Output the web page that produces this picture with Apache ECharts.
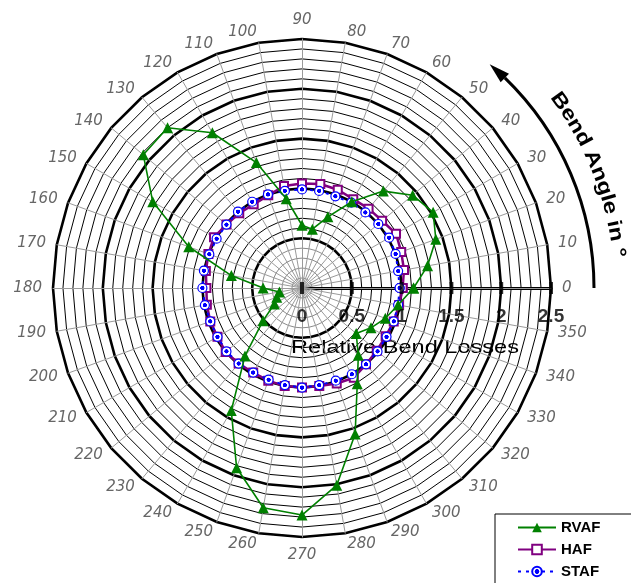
<!DOCTYPE html>
<html><head><meta charset="utf-8">
<script src="https://cdn.jsdelivr.net/npm/echarts@6/dist/echarts.min.js"></script>
<style>html,body{margin:0;padding:0;background:#fff}#c{width:631px;height:583px}</style>
</head><body><div id="c"></div>
<script>
// ---- data ----
const angles = [0,10,20,30,40,50,60,70,80,90,100,110,120,130,140,150,160,170,180,190,200,210,220,230,240,250,260,270,280,290,300,310,320,330,340,350];
const angleLabels = ['0','10','20','30','40','50','60','70','80','90','100','110','120','130','140','150','160','170','180','190','200','210','220','230','240','250','260','270','280','290','300','310','320','330','340','350'];
const rvaf = [1.12,1.28,1.43,1.52,1.45,1.27,1.00,0.76,0.60,0.63,0.91,1.34,1.80,2.10,2.08,1.73,1.21,0.72,0.39,0.23,0.27,0.32,0.51,0.89,1.42,1.92,2.24,2.28,2.01,1.56,1.11,0.88,0.71,0.80,0.89,0.98];
const haf  = [1.01,1.04,1.06,1.09,1.05,1.04,1.03,1.05,1.06,1.05,1.04,0.99,0.97,0.98,0.99,1.02,1.00,0.98,0.96,0.97,0.98,0.98,1.00,0.99,0.98,0.99,1.00,1.00,1.00,1.02,1.04,1.00,0.98,0.97,0.98,0.99];
const staf = [0.98,0.98,1.00,1.01,1.00,0.99,0.99,0.98,0.99,0.99,0.99,1.00,1.00,1.00,0.99,0.99,0.99,1.00,1.00,0.99,0.98,0.98,0.99,0.99,0.98,0.98,0.99,1.00,0.99,0.99,1.00,1.00,0.99,0.98,0.98,0.98];
const seriesNames = ['RVAF','HAF','STAF'];
const radiusTicks = [0,0.5,1,1.5,2,2.5];
const radiusTickLabels = ['0','0.5','1','1.5','2','2.5'];
const radiusMax = 2.5;
const radiusTitle = 'Relative Bend Losses';
const angleTitle = 'Bend Angle in \u00b0';

// ---- layout ----
const CX = 302, CY = 288, R = 249;
const chart = echarts.init(document.getElementById('c'), null, {renderer:'canvas'});

function closed(vals){
  const d = angles.map((a,i)=>[vals[i], a]);
  d.push([vals[0], 360]);
  return d;
}
const ringColors = [];
for (let i = 0; i <= 25; i++) ringColors.push(i < 5 ? '#8a8a8a' : '#000');

const graphic = [];
// curved arrow
const AR = 292;
const thB = 46*Math.PI/180, thT = 50*Math.PI/180;
graphic.push({type:'arc', silent:true, shape:{cx:CX, cy:CY, r:AR, startAngle:-thB, endAngle:0, clockwise:true},
  style:{stroke:'#000', lineWidth:3, fill:null}});
const tip = [CX + AR*Math.cos(thT), CY - AR*Math.sin(thT)];
const bc = [CX + AR*Math.cos(thB), CY - AR*Math.sin(thB)];
const u = [Math.cos(thB), -Math.sin(thB)];
graphic.push({type:'polygon', silent:true, shape:{points:[tip,[bc[0]+6*u[0], bc[1]+6*u[1]],[bc[0]-6*u[0], bc[1]-6*u[1]]]}, style:{fill:'#000'}});
// curved title
const ctx = document.createElement('canvas').getContext('2d');
const bf = 20, sx = 1.2;
ctx.font = 'bold ' + bf + 'px "Liberation Sans", Arial, sans-serif';
const chars = Array.from(angleTitle);
const widths = chars.map(c => ctx.measureText(c).width * sx);
const total = widths.reduce((a,b)=>a+b,0);
const TR = 318, thC = 21.5*Math.PI/180;
const th0 = thC + total/2/TR;
let cum = 0;
chars.forEach((c,i)=>{
  const th = th0 - (cum + widths[i]/2)/TR;
  cum += widths[i];
  graphic.push({type:'text', silent:true, x: CX + TR*Math.cos(th), y: CY - TR*Math.sin(th), rotation: th - Math.PI/2, scaleX: sx,
    style:{text:c, fontSize:bf, fontWeight:'bold', fontFamily:'"Liberation Sans", Arial, sans-serif', fill:'#000', align:'center', verticalAlign:'middle'}});
});
graphic.push({type:'text', silent:true, x:405, y:348, scaleX:1.24,
  style:{text:radiusTitle, fontSize:19, fontFamily:'"Liberation Sans", Arial, sans-serif', fill:'#000', align:'center', verticalAlign:'middle'}});

const option = {
  animation:false,
  backgroundColor:'#fff',
  radar:[{
    center:[CX,CY], radius:R, startAngle:0, shape:'polygon', splitNumber:25,
    indicator: angleLabels.map(n=>({name:n, min:0, max:radiusMax})),
    nameGap:11,
    axisName:{color:'#666', fontStyle:'italic', fontSize:15, fontFamily:'"DejaVu Sans", sans-serif'},
    axisLine:{lineStyle:{color:'#9a9a9a', width:1}},
    axisTick:{show:false}, axisLabel:{show:false},
    splitLine:{lineStyle:{color:ringColors, width:1}},
    splitArea:{show:false}
  },{
    center:[CX,CY], radius:R, startAngle:0, shape:'polygon', splitNumber:5,
    indicator: angleLabels.map(n=>({name:'', min:0, max:radiusMax})),
    axisName:{show:false},
    axisLine:{show:false}, axisTick:{show:false}, axisLabel:{show:false},
    splitLine:{lineStyle:{color:'#000', width:2.6}},
    splitArea:{show:false}
  }],
  polar:{center:[CX,CY], radius:R},
  angleAxis:{type:'value', min:0, max:360, startAngle:0, clockwise:false, show:false},
  radiusAxis:{type:'value', min:0, max:radiusMax, axisLine:{show:true, lineStyle:{color:'#000', width:3}},
    axisTick:{show:false}, axisLabel:{show:false}, splitLine:{show:false}},
  legend:{data:seriesNames, orient:'vertical', left:495, top:514, width:140, height:120, padding:[6,40,14,22], itemGap:7,
    itemWidth:38, itemHeight:12, borderColor:'#000', borderWidth:1, backgroundColor:'#fff', selectedMode:false,
    textStyle:{fontSize:15, fontWeight:'bold', color:'#000', fontFamily:'"Liberation Sans", Arial, sans-serif'}},
  graphic: graphic,
  series:[
    {name:'HAF', type:'line', coordinateSystem:'polar', data:closed(haf), symbol:'emptyRect', symbolSize:8,
      lineStyle:{color:'#800080', width:2.5}, itemStyle:{color:'#800080', borderColor:'#800080', borderWidth:1}, z:3},
    {name:'STAF', type:'line', coordinateSystem:'polar', data:closed(staf), symbol:'circle', symbolSize:9,
      lineStyle:{color:'#0000ff', width:2, type:[3,5]},
      itemStyle:{color:{type:'radial', x:0.5, y:0.5, r:0.5, colorStops:[{offset:0,color:'#0000ff'},{offset:0.38,color:'#0000ff'},{offset:0.45,color:'#ffffff'},{offset:1,color:'#ffffff'}]},
        borderColor:'#0000ff', borderWidth:1.2}, z:4},
    {name:'RVAF', type:'line', coordinateSystem:'polar', data:closed(rvaf), symbol:'triangle', symbolSize:11,
      lineStyle:{color:'#008000', width:1.6}, itemStyle:{color:'#008000'}, z:5},
    {name:'ticks', type:'scatter', coordinateSystem:'polar', data:radiusTicks.map(v=>[v,0]), symbol:'rect', symbolSize:[4,12],
      itemStyle:{color:'#000'}, z:6,
      label:{show:true, position:'bottom', distance:13, formatter:(p)=>radiusTickLabels[p.dataIndex],
        fontSize:19, fontWeight:'bold', color:'#000', fontFamily:'"Liberation Sans", Arial, sans-serif'}}
  ]
};
chart.setOption(option);
</script></body></html>
